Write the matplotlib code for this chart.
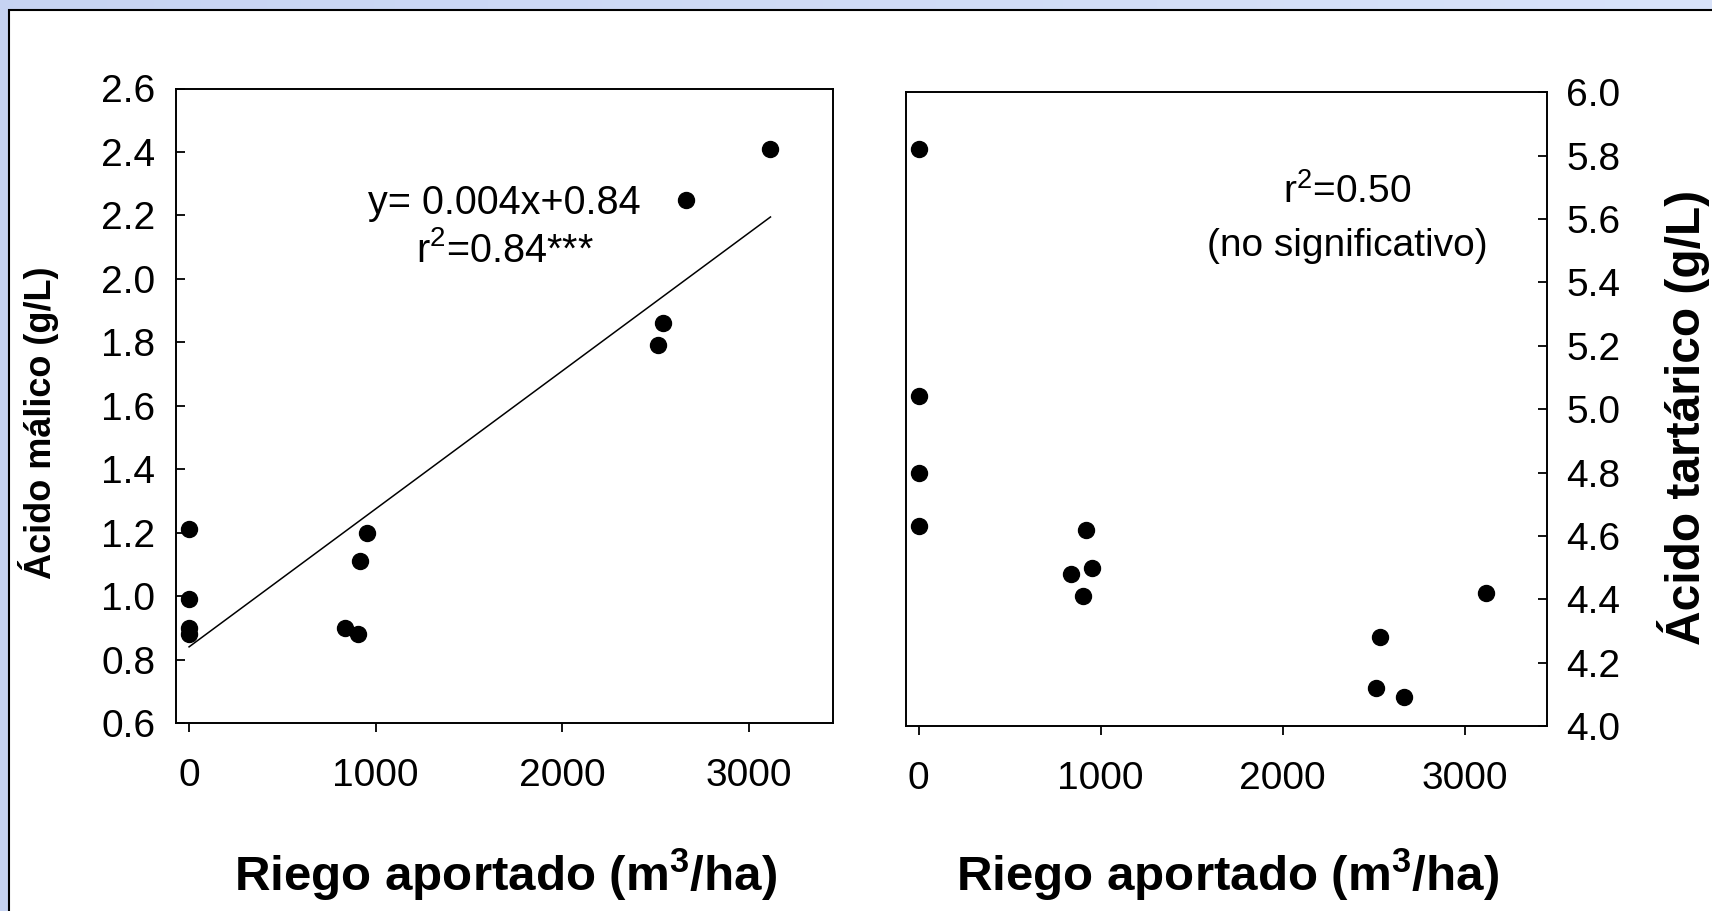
import numpy as np
import matplotlib
matplotlib.use("Agg")
import matplotlib.pyplot as plt
from matplotlib.patches import Rectangle

plt.rcParams["font.family"] = ["Liberation Sans", "DejaVu Sans"]
plt.rcParams["mathtext.fontset"] = "custom"
plt.rcParams["mathtext.rm"] = "Liberation Sans"
plt.rcParams["mathtext.it"] = "Liberation Sans:italic"
plt.rcParams["mathtext.bf"] = "Liberation Sans:bold"

# Irrigation applied (m3/ha) and measured acids (g/L)
riego = [0, 0, 0, 0, 835, 905, 918, 955, 2515, 2537, 2665, 3115]
malico = [1.21, 0.99, 0.90, 0.88, 0.90, 0.88, 1.11, 1.20, 1.79, 1.86, 2.25, 2.41]
tartarico = [5.82, 5.04, 4.80, 4.63, 4.48, 4.41, 4.62, 4.50, 4.12, 4.28, 4.09, 4.42]

# Linear fit for malic acid
pendiente = 0.000435
intercepto = 0.84

x_ticks = [0, 1000, 2000, 3000]
malico_ticks = [0.6, 0.8, 1.0, 1.2, 1.4, 1.6, 1.8, 2.0, 2.2, 2.4, 2.6]
tartarico_ticks = [4.0, 4.2, 4.4, 4.6, 4.8, 5.0, 5.2, 5.4, 5.6, 5.8, 6.0]

W, H = 1712, 911
fig = plt.figure(figsize=(W / 100, H / 100), dpi=100)

# Slide background: soft blue gradient with a white bordered panel
bg = fig.add_axes([0, 0, 1, 1])
bg.set_zorder(-10)
grad = np.linspace(0, 1, 256)[None, :, None]
c0 = np.array([0.78, 0.83, 0.95])[None, None, :]
c1 = np.array([0.85, 0.89, 0.98])[None, None, :]
bg.imshow(c0 + (c1 - c0) * grad, aspect="auto", extent=[0, 1, 0, 1])
bg.set_axis_off()

panel = Rectangle((9 / W, -0.2), 1.5, (1 - 10 / H) + 0.2, transform=fig.transFigure,
                  facecolor="white", edgecolor="black", linewidth=1.5, zorder=-5)
fig.add_artist(panel)


def fmt_axes(ax):
    for s in ax.spines.values():
        s.set_linewidth(1.4)
    ax.set_xticks(x_ticks)
    ax.tick_params(axis="x", direction="out", length=6.5, width=1.3, pad=19,
                   labelsize=28, top=False)


ax1 = fig.add_axes([176 / W, 1 - 723 / H, (833 - 176) / W, (723 - 88.5) / H])
ax2 = fig.add_axes([906 / W, 1 - 726 / H, (1547 - 906) / W, (726 - 92.3) / H])
for ax in (ax1, ax2):
    ax.set_facecolor("none")

# Left panel: malic acid
ax1.plot(riego, malico, "o", color="black", markersize=11.5, linestyle="none")
xl = np.array([min(riego), max(riego)])
ax1.plot(xl, intercepto + pendiente * xl, color="black", linewidth=1.1)
ax1.set_xlim(-70, 3450)
ax1.set_ylim(0.6, 2.6)
ax1.set_yticks(malico_ticks)
ax1.set_yticklabels([f"{v:.1f}" for v in malico_ticks])
fmt_axes(ax1)
ax1.tick_params(axis="y", direction="in", length=6.5, width=1.3, pad=15,
                labelsize=28, right=False)
ax1.text(1690, 2.205, "y= 0.004x+0.84", fontsize=28.5, ha="center", va="baseline")
ax1.text(1690, 2.053, r"r$^2$=0.84***", fontsize=28.5, ha="center", va="baseline")

# Right panel: tartaric acid
ax2.plot(riego, tartarico, "o", color="black", markersize=11.5, linestyle="none")
ax2.set_xlim(-70, 3453)
ax2.set_ylim(4.0, 6.0)
ax2.set_yticks(tartarico_ticks)
ax2.set_yticklabels([f"{v:.1f}" for v in tartarico_ticks])
fmt_axes(ax2)
ax2.yaxis.tick_right()
ax2.tick_params(axis="y", direction="in", length=6.5, width=1.3, pad=14,
                labelsize=28, left=False, right=True, labelleft=False, labelright=True)
ax2.text(2355, 5.652, r"r$^2$=0.50", fontsize=28, ha="center", va="baseline")
ax2.text(2355, 5.483, "(no significativo)", fontsize=28, ha="center", va="baseline")

# Axis titles
xlab = r"Riego aportado (m$^{\mathbf{3}}$/ha)"
fig.text(506 / W, 1 - 891 / H, xlab, fontsize=35.5, fontweight="bold", ha="center", va="baseline")
fig.text(1228 / W, 1 - 891 / H, xlab, fontsize=35.5, fontweight="bold", ha="center", va="baseline")
fig.text(39 / W, 1 - 423 / H, "Ácido málico (g/L)", fontsize=26, fontweight="bold",
         rotation=90, ha="center", va="center")
fig.text(1683 / W, 1 - 417 / H, "Ácido tartárico (g/L)", fontsize=34.5, fontweight="bold",
         rotation=90, ha="center", va="center")

fig.savefig("out.png", dpi=100)
